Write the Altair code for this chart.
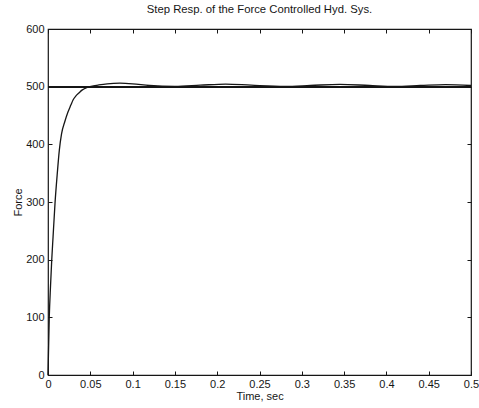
import altair as alt
import pandas as pd

# Step response
time_s = [0, 0.0015, 0.003, 0.0044, 0.006, 0.0083, 0.011, 0.0134, 0.016, 0.02,
          0.0236, 0.027, 0.0296, 0.033, 0.0365, 0.0402, 0.045, 0.0496, 0.06, 0.07,
          0.085, 0.1, 0.12, 0.15, 0.18, 0.21, 0.24, 0.28, 0.31, 0.345, 0.38, 0.41,
          0.44, 0.47, 0.5]
force = [0, 100, 155, 199, 240, 298, 350, 390, 418, 440,
         456, 468, 477, 484, 489, 494, 498, 500, 503, 505,
         506, 505, 502, 500.5, 502.5, 504.5, 502.5, 500.5, 502, 504, 502, 500.5,
         502, 503.5, 502]
setpoint = 500

x_ticks = [0, 0.05, 0.1, 0.15, 0.2, 0.25, 0.3, 0.35, 0.4, 0.45, 0.5]
y_ticks = [0, 100, 200, 300, 400, 500, 600]

df = pd.DataFrame({"t": time_s, "F": force})

FONT = "Liberation Sans"
INK = "#161616"

xscale = alt.Scale(domain=[0, 0.5], nice=False, zero=False)
yscale = alt.Scale(domain=[0, 600], nice=False)

x_bottom = alt.Axis(orient="bottom", values=x_ticks, format="~g", offset=-4, tickSize=4,
                    domain=False, grid=False, labelPadding=3, labelFlush=False,
                    title="Time, sec", titlePadding=1, labelColor=INK, tickColor=INK,
                    titleColor=INK)
y_left = alt.Axis(orient="left", values=y_ticks, offset=-4, tickSize=4, domain=False,
                  grid=False, labelPadding=4, title="Force", titlePadding=2,
                  labelColor=INK, tickColor=INK, titleColor=INK)
x_top = alt.Axis(orient="top", values=x_ticks, offset=-4, tickSize=4, domain=False,
                 grid=False, labels=False, title=None, tickColor=INK)
y_right = alt.Axis(orient="right", values=y_ticks, offset=-4, tickSize=4, domain=False,
                   grid=False, labels=False, title=None, tickColor=INK)

line = alt.Chart(df).mark_line(color=INK, strokeWidth=1.3, interpolate="monotone").encode(
    x=alt.X("t:Q", scale=xscale, axis=x_bottom),
    y=alt.Y("F:Q", scale=yscale, axis=y_left),
)
frame_ticks = alt.Chart(df).mark_line(opacity=0).encode(
    x=alt.X("t:Q", scale=xscale, axis=x_top),
    y=alt.Y("F:Q", scale=yscale, axis=y_right),
)
ref = alt.Chart(df).mark_rule(color=INK, strokeWidth=1.1).encode(
    y=alt.Y(datum=setpoint, scale=yscale, axis=None),
)

chart = alt.layer(ref, line, frame_ticks).resolve_axis(
    x="independent", y="independent"
).properties(
    width=423,
    height=346,
    autosize=alt.AutoSizeParams(type="none"),
    padding={"left": 48, "top": 29, "right": 8, "bottom": 33},
    background="white",
    title=alt.TitleParams("Step Resp. of the Force Controlled Hyd. Sys.", fontSize=11.3,
                          fontWeight="normal", font=FONT, color=INK, offset=8,
                          anchor="middle"),
).configure_view(
    stroke=INK, strokeWidth=1.2
).configure_axis(
    labelFont=FONT, titleFont=FONT, labelFontSize=11, titleFontSize=11,
    titleFontWeight="normal"
)

chart.save("out.html", embed_options={"renderer": "svg", "actions": False})
